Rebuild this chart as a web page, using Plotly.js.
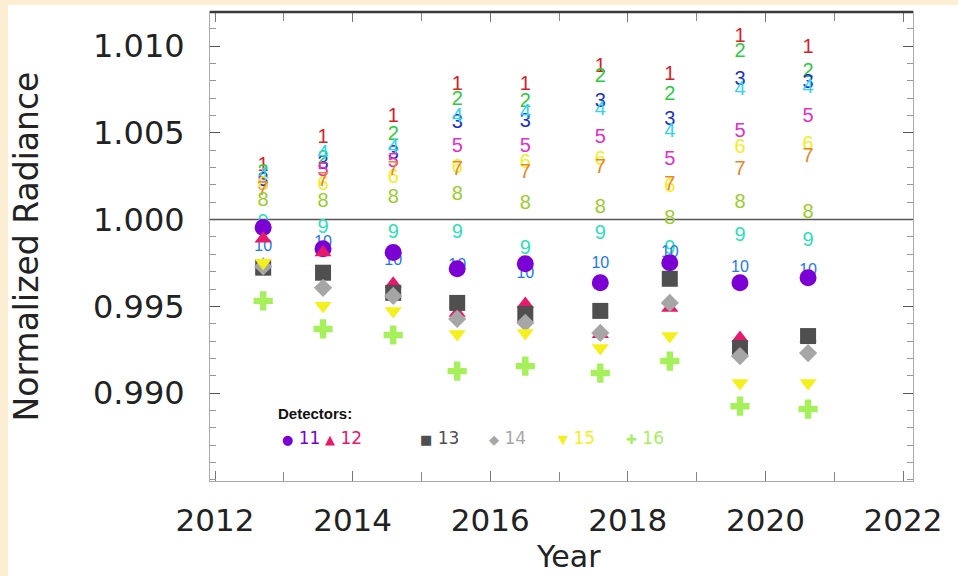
<!DOCTYPE html>
<html>
<head>
<meta charset="utf-8">
<script src="https://cdn.plot.ly/plotly-3.0.1.min.js"></script>
<style>html,body{margin:0;padding:0;background:#fff;}#chart{width:958px;height:576px;}</style>
</head>
<body>
<div id="chart"></div>
<script>
// ---- data ----
const years = [2012.70, 2013.57, 2014.59, 2015.52, 2016.51, 2017.60, 2018.61, 2019.63, 2020.62];

const det1  = [1.0031, 1.00468, 1.0059, 1.00775, 1.00775, 1.00879, 1.00832, 1.01052, 1.00988];
const det2  = [1.0027, 1.0035, 1.00486, 1.00688, 1.00676, 1.00821, 1.00717, 1.00965, 1.0085];
const det3  = [1.0022, 1.0032, 1.0038, 1.00555, 1.0056, 1.00676, 1.00572, 1.00803, 1.00786];
const det4  = [1.0025, 1.0038, 1.0041, 1.0059, 1.00613, 1.0063, 1.00503, 1.00746, 1.00757];
const det5  = [1.0020, 1.0028, 1.0033, 1.00416, 1.00416, 1.00468, 1.00341, 1.00503, 1.0059];
const det6  = [1.0020, 1.0020, 1.0024, 1.0030, 1.00324, 1.00341, 1.0019, 1.0041, 1.00428];
const det7  = [1.0017, 1.00225, 1.00283, 1.00283, 1.00266, 1.0030, 1.0020, 1.00283, 1.00358];
const det8  = [1.0011, 1.0010, 1.00127, 1.00139, 1.00092, 1.00069, 1.00006, 1.00098, 1.0004];
const det9  = [0.9998, 0.99954, 0.9992, 0.99925, 0.99832, 0.99919, 0.9983, 0.99908, 0.99879];
const det10 = [0.9984, 0.99867, 0.99763, 0.99734, 0.99688, 0.99746, 0.9981, 0.99723, 0.99705];
const det11 = [0.99954, 0.99832, 0.9981, 0.99717, 0.99746, 0.99636, 0.99751, 0.99636, 0.99665];
const det12 = [0.9989, 0.9981, 0.9963, 0.99462, 0.99514, 0.9934, 0.99491, 0.99318, 0.9932];
const det13 = [0.99723, 0.99694, 0.99578, 0.9952, 0.99457, 0.99474, 0.99659, 0.9926, 0.99329];
const det14 = [0.9973, 0.99607, 0.9956, 0.99428, 0.99405, 0.99347, 0.9952, 0.99214, 0.99231];
const det15 = [0.99751, 0.99503, 0.99474, 0.99341, 0.99347, 0.9926, 0.9933, 0.99058, 0.99058];
const det16 = [0.99532, 0.9937, 0.99335, 0.99127, 0.99156, 0.99116, 0.99185, 0.98925, 0.98908];

const textDetLabels = ["1","2","3","4","5","6","7","8","9","10"];
const textDetSeries = [det1, det2, det3, det4, det5, det6, det7, det8, det9, det10];
const textDetColors = ["#d81e2a","#2ccc3c","#2230c4","#30d4f2","#e030c8","#f2ee22","#e8862a","#9ccc2c","#2ee0b8","#2078ee"];

const symDetLabels = ["11","12","13","14","15","16"];
const symDetSeries = [det11, det12, det13, det14, det15, det16];
const symDetColors = ["#7a00d4","#e8186c","#4f4f4f","#a6a6a6","#f4f01c","#a6f05c"];
const symDetSymbols = ["circle","triangle-up","square","diamond","triangle-down","cross"];
const symDetGlyphs = ["\u25CF","\u25B2","\u25A0","\u25C6","\u25BC","\u271A"];
const symDetSizes = [17, 15, 16, 14, 15, 16];

const legendTitle = "Detectors:";
const xTitle = "Year";
const yTitle = "Normalized Radiance";

const xTickVals = [2012, 2014, 2016, 2018, 2020, 2022];
const yTickVals = [0.990, 0.995, 1.000, 1.005, 1.010];
const yTickText = ["0.990","0.995","1.000","1.005","1.010"];

// ---- geometry ----
const W = 958, H = 576, ML = 210, MR = 45, MT = 12, MB = 95;
const PW = W - ML - MR, PH = H - MT - MB;
const pxX = p => (p - ML) / PW;
const pxY = p => (H - MB - p) / PH;

const FONT = "DejaVu Sans, Liberation Sans, sans-serif";
const CREAM = "#fbeed3";

const traces = [];
textDetSeries.forEach((s, i) => {
  traces.push({
    type: "scatter", mode: "text", x: years, y: s,
    text: s.map(() => textDetLabels[i]),
    textposition: "middle center",
    textfont: { family: "Liberation Sans, sans-serif", size: textDetLabels[i] === "10" ? 16 : 20, color: textDetColors[i] },
    showlegend: false, hoverinfo: "skip"
  });
});
symDetSeries.forEach((s, i) => {
  traces.push({
    type: "scatter", mode: "markers", x: years, y: s,
    name: symDetLabels[i],
    marker: { symbol: symDetSymbols[i], size: symDetSizes[i], color: symDetColors[i], line: { width: 0 } },
    showlegend: false
  });
});

// legend drawn as annotations (glyph + coloured number)
const legendItemPx = [280, 323, 418, 487, 556, 624];
const annotations = [
  { xref: "paper", yref: "paper", x: pxX(276), y: pxY(413), xanchor: "left", yanchor: "middle",
    text: "<b>" + legendTitle + "</b>", showarrow: false,
    font: { family: "Liberation Sans, sans-serif", size: 15, color: "#111" } },
  { xref: "paper", yref: "paper", x: pxX(568), y: pxY(556), xanchor: "center", yanchor: "middle",
    text: xTitle, showarrow: false,
    font: { family: FONT, size: 30, color: "#222" } }
];
symDetLabels.forEach((lab, i) => {
  annotations.push({
    xref: "paper", yref: "paper", x: pxX(legendItemPx[i]), y: pxY(438), xanchor: "left", yanchor: "middle",
    text: '<span style="font-size:13px">' + symDetGlyphs[i] + '</span> ' + lab, showarrow: false,
    font: { family: "DejaVu Sans, sans-serif", size: 17, color: symDetColors[i] }
  });
});

const layout = {
  width: W, height: H,
  margin: { l: ML, r: MR, t: MT, b: MB, pad: 0 },
  paper_bgcolor: CREAM, plot_bgcolor: "#ffffff",
  font: { family: FONT, color: "#222" },
  showlegend: false,
  annotations: annotations,
  xaxis: {
    range: [2011.927, 2022.145], tickvals: xTickVals, ticktext: xTickVals.map(String),
    ticks: "inside", ticklen: 10, tickcolor: "#777", tickwidth: 1,
    minor: { dtick: 1, ticks: "inside", ticklen: 9, tickcolor: "#888" },
    showline: true, linecolor: "#aaa", linewidth: 1, mirror: "allticks",
    showgrid: false, zeroline: false,
    tickfont: { family: FONT, size: 31, color: "#222" },
    ticklabelstandoff: 12
  },
  yaxis: {
    range: [0.98494, 1.01196], tickvals: yTickVals, ticktext: yTickText,
    ticks: "inside", ticklen: 10, tickcolor: "#555", tickwidth: 1,
    minor: { dtick: 0.001, ticks: "inside", ticklen: 6, tickcolor: "#999" },
    showline: true, linecolor: "#aaa", linewidth: 1, mirror: "allticks",
    showgrid: false, zeroline: false,
    tickfont: { family: FONT, size: 32, color: "#222" },
    ticklabelstandoff: 18,
    title: { text: yTitle, font: { family: FONT, size: 33, color: "#222" }, standoff: 44 }
  },
  shapes: [
    // white page area (leaves thin cream strips at left and top, as in the reference)
    { type: "rect", xref: "paper", yref: "paper", x0: pxX(8), x1: pxX(958), y0: pxY(576), y1: pxY(5), fillcolor: "#ffffff", line: { width: 0 }, layer: "below" },
    { type: "line", xref: "paper", yref: "y", x0: 0, x1: 1, y0: 1.0, y1: 1.0, line: { color: "#555", width: 1.5 }, layer: "below" },
    { type: "line", xref: "paper", yref: "paper", x0: 0, x1: 1, y0: 1, y1: 1, line: { color: "#3a3a3a", width: 2.5 } }
  ]
};

Plotly.newPlot("chart", traces, layout, { displayModeBar: false, staticPlot: true });
</script>
</body>
</html>
